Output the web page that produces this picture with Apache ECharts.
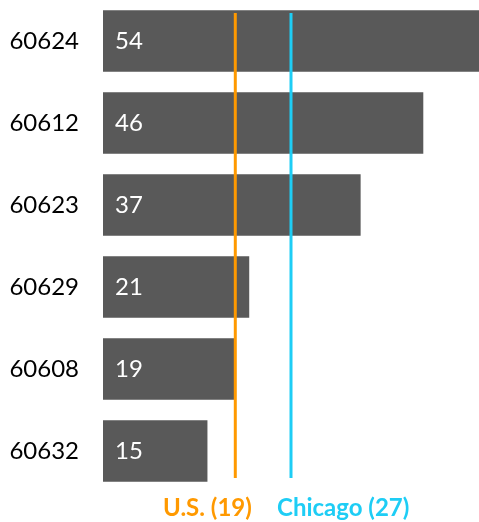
<!DOCTYPE html>
<html>
<head>
<meta charset="utf-8">
<script src="https://cdn.jsdelivr.net/npm/echarts@6/dist/echarts.min.js"></script>
<style>
  html, body { margin: 0; padding: 0; background: #fff; }
  #chart { width: 479px; height: 522px; }
</style>
</head>
<body>
<div id="chart"></div>
<script>
// zip codes, top to bottom
const zips = ['60624', '60612', '60623', '60629', '60608', '60632'];
const values = [54, 46, 37, 21, 19, 15];
// reference lines
const refNames = ['U.S.', 'Chicago'];
const refValues = [19, 27];
const refColors = ['#ff9900', '#1ecdf5'];

const font = 'Lato, "Open Sans", sans-serif';

let chart = echarts.init(document.getElementById('chart'));

let lineSeries = refValues.map(function (v, i) {
  return {
    name: refNames[i],
    type: 'line',
    xAxisIndex: 1,
    yAxisIndex: 1,
    data: [[v, 0], [v, 1]],
    symbol: 'none',
    silent: true,
    lineStyle: { color: refColors[i], width: 3 },
    z: 5
  };
});

chart.setOption({
  animation: false,
  grid: [
    { left: 103, right: 0, top: 0, height: 492 },
    { left: 103, right: 0, top: 13, height: 465 }
  ],
  xAxis: [
    { type: 'value', min: 0, max: 54, show: false, gridIndex: 0 },
    { type: 'value', min: 0, max: 54, show: false, gridIndex: 1 }
  ],
  yAxis: [
    {
      type: 'category',
      data: zips,
      inverse: true,
      gridIndex: 0,
      axisLine: { show: false },
      axisTick: { show: false },
      axisLabel: { color: '#000', fontSize: 24, fontFamily: font, margin: 24 }
    },
    { type: 'value', min: 0, max: 1, show: false, gridIndex: 1 }
  ],
  series: [
    {
      type: 'bar',
      data: values,
      barCategoryGap: '25%',
      itemStyle: { color: '#595959' },
      label: {
        show: true,
        position: 'insideLeft',
        distance: 12,
        color: '#fff',
        fontSize: 24,
        fontFamily: font
      }
    }
  ].concat(lineSeries),
  graphic: refNames.map(function (n, i) {
    return {
      type: 'text',
      left: [163, 277][i],
      top: 496,
      style: {
        text: n + ' (' + refValues[i] + ')',
        fill: refColors[i],
        font: 'bold 24px ' + font
      }
    };
  })
});
</script>
</body>
</html>
